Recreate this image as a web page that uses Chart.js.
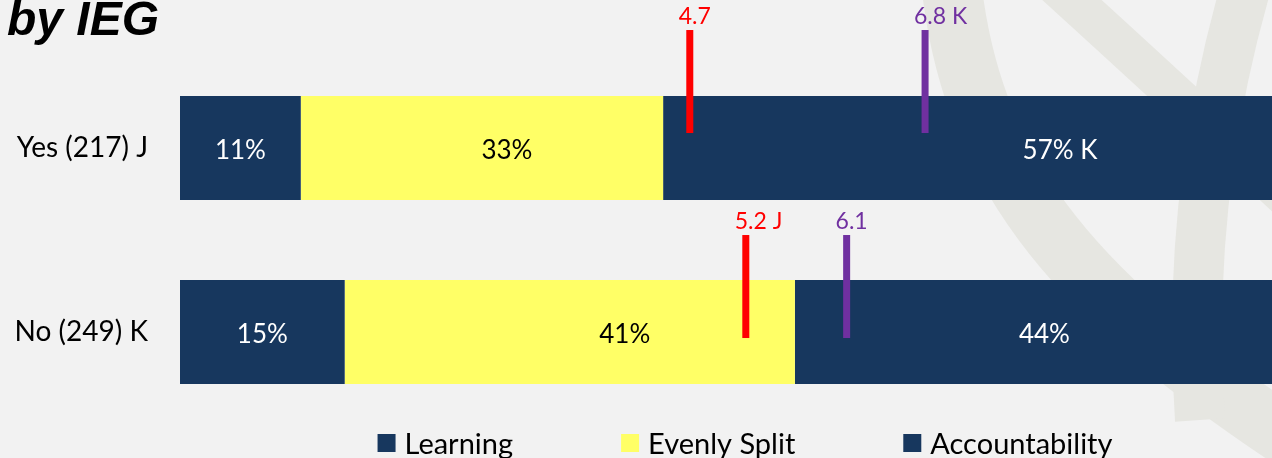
<!DOCTYPE html>
<html><head><meta charset="utf-8">
<script src="https://cdn.jsdelivr.net/npm/chart.js@4.4.1/dist/chart.umd.min.js"></script>
<style>
html,body{margin:0;padding:0;background:#f2f2f2;overflow:hidden;width:1272px;height:458px;}
#wrap{position:relative;width:1290px;height:458px;}
</style></head><body>
<div id="wrap"><canvas id="c" width="1290" height="458"></canvas></div>
<script>
// ---- data ----
const categories = ['Yes (217) J', 'No (249) K'];
const seriesNames = ['Learning', 'Evenly Split', 'Accountability'];
const learning = [11, 15];
const evenlySplit = [33, 41];
const accountability = [57, 44];
const learningLabels = ['11%', '15%'];
const evenlySplitLabels = ['33%', '41%'];
const accountabilityLabels = ['57% K', '44%'];
const redScores = [4.7, 5.2];
const redScoreLabels = ['4.7', '5.2 J'];
const purpleScores = [6.8, 6.1];
const purpleScoreLabels = ['6.8 K', '6.1'];
const titleText = 'by IEG';

// ---- styles ----
const NAVY = '#17375E', YELLOW = '#FFFF66', RED = '#FF0000', PURPLE = '#7030A0';
const FONT = 'Lato, "Open Sans", sans-serif';
const markerStyle = { topOffset: [-66, -45], length: 103, width: 7 };
const labelShift = [[0, 25, 84], [0, 55, 8]];

const decor = {
  id: 'decor',
  beforeDraw(chart) {
    const ctx = chart.ctx;
    ctx.save();
    ctx.fillStyle = '#F2F2F2';
    ctx.fillRect(0, 0, chart.width, chart.height);
    ctx.strokeStyle = '#E6E6E1';
    ctx.lineCap = 'butt';
    ctx.lineWidth = 60;
    ctx.beginPath(); ctx.moveTo(952, -10); ctx.bezierCurveTo(975, 180, 1080, 300, 1300, 445); ctx.stroke();
    ctx.lineWidth = 40;
    ctx.beginPath(); ctx.moveTo(1050, -20); ctx.quadraticCurveTo(1160, 80, 1300, 210); ctx.stroke();
    ctx.lineWidth = 50;
    ctx.beginPath(); ctx.moveTo(1245, -10); ctx.quadraticCurveTo(1185, 200, 1200, 420); ctx.stroke();
    ctx.restore();
  },
  afterDatasetsDraw(chart) {
    const ctx = chart.ctx;
    ctx.save();
    // value labels
    ctx.font = '26px ' + FONT;
    ctx.textAlign = 'center';
    ctx.textBaseline = 'alphabetic';
    chart.data.datasets.forEach((ds, i) => {
      const meta = chart.getDatasetMeta(i);
      meta.data.forEach((el, j) => {
        const p = el.getProps(['x', 'base', 'y'], true);
        const cx = (p.x + p.base) / 2 + labelShift[j][i];
        ctx.fillStyle = ds.labelColor;
        ctx.fillText(ds.valueLabels[j], cx, p.y + 11);
      });
    });
    // score markers
    const x2 = chart.scales.x2;
    const bars = chart.getDatasetMeta(0).data;
    ctx.font = '23px ' + FONT;
    ctx.textAlign = 'left';
    const drawMarker = (score, label, j, color) => {
      const el = bars[j];
      const p = el.getProps(['y', 'height'], true);
      const top = p.y - p.height / 2 + markerStyle.topOffset[j];
      const x = x2.getPixelForValue(score);
      ctx.fillStyle = color;
      ctx.fillRect(x - markerStyle.width / 2, top, markerStyle.width, markerStyle.length);
      const num = label.split(' ')[0];
      const w = ctx.measureText(num).width;
      ctx.fillText(label, x + 5 - w / 2, top - 6);
    };
    redScores.forEach((s, j) => drawMarker(s, redScoreLabels[j], j, RED));
    purpleScores.forEach((s, j) => drawMarker(s, purpleScoreLabels[j], j, PURPLE));
    ctx.restore();
  },
  afterDraw(chart) {
    const ctx = chart.ctx;
    ctx.save();
    // title
    ctx.fillStyle = '#000';
    ctx.font = 'italic bold 48px "Liberation Sans", Arial, sans-serif';
    ctx.textAlign = 'left';
    ctx.textBaseline = 'alphabetic';
    ctx.fillText(titleText, 7, 35);
    // legend
    ctx.font = '29px ' + FONT;
    const items = chart.data.datasets.map(ds => ({ text: ds.label, color: ds.backgroundColor, w: 27 + ctx.measureText(ds.label).width }));
    const gap = 108;
    const total = items.reduce((a, it) => a + it.w, 0) + gap * (items.length - 1);
    let x = 745 - total / 2;
    items.forEach(it => {
      ctx.fillStyle = it.color;
      ctx.fillRect(x, 434, 18, 18);
      ctx.fillStyle = '#000';
      ctx.fillText(it.text, x + 27, 454);
      x += it.w + gap;
    });
    ctx.restore();
  }
};

new Chart(document.getElementById('c'), {
  type: 'bar',
  data: {
    labels: categories,
    datasets: [
      { label: seriesNames[0], data: learning, backgroundColor: NAVY, valueLabels: learningLabels, labelColor: '#FFFFFF' },
      { label: seriesNames[1], data: evenlySplit, backgroundColor: YELLOW, valueLabels: evenlySplitLabels, labelColor: '#000000' },
      { label: seriesNames[2], data: accountability, backgroundColor: NAVY, valueLabels: accountabilityLabels, labelColor: '#FFFFFF' }
    ]
  },
  options: {
    indexAxis: 'y',
    responsive: false,
    animation: false,
    events: [],
    barPercentage: 0.565,
    categoryPercentage: 1,
    layout: { padding: { top: 56, bottom: 34, left: 0, right: 12 } },
    scales: {
      x: { stacked: true, min: 0, max: 100, display: false },
      x2: { type: 'linear', min: 0.15, max: 9.95, display: false },
      y: {
        stacked: true,
        grid: { display: false, drawTicks: false },
        border: { display: false },
        ticks: { color: '#000', font: { family: FONT, size: 28 }, padding: 32 },
        afterFit: s => { s.width = 180; s.paddingTop = 0; s.paddingBottom = 0; }
      }
    },
    plugins: { legend: { display: false }, tooltip: { enabled: false } }
  },
  plugins: [decor]
});
</script>
</body></html>
